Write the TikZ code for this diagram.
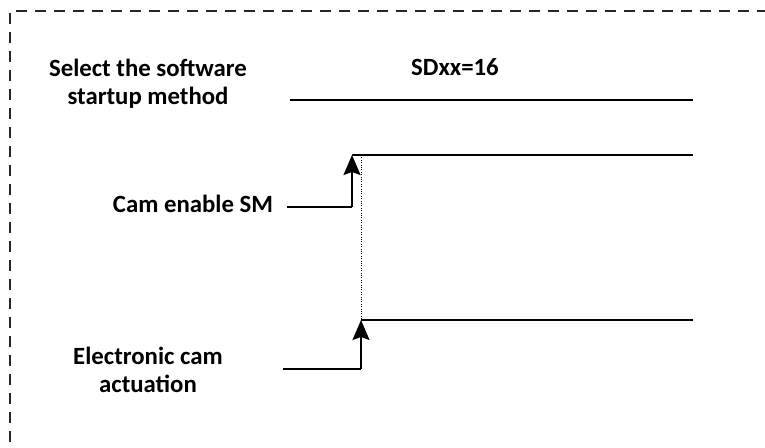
\documentclass[tikz,border=0pt]{standalone}
\usepackage{fontspec}
\setmainfont{Carlito}
\usetikzlibrary{arrows.meta}

\begin{document}
\begin{tikzpicture}[x=1pt,y=-1pt,>={Stealth[length=20pt,width=17pt,inset=3pt]},
  lbl/.style={font=\bfseries\fontsize{24.8}{28}\selectfont,align=center},
  sig/.style={line width=1.8pt}]
  \useasboundingbox (0,0) rectangle (765,447);
  % dashed frame, runs off the right and bottom edges
  \draw[black!85,line width=1.2pt,dash pattern=on 11pt off 8pt] (10,480) -- (10,11) -- (800,11);
  % software startup method
  \node[lbl] (sel) at (148,84) {Select the software\\startup method};
  \node[lbl,anchor=base] (sdxx) at (455,75) {SDxx=16};
  \coordinate (sel0) at (290,100);
  \coordinate (sel1) at (693,100);
  \draw[sig] (sel0) -- (sel1);
  % cam enable SM
  \node[lbl,anchor=base] (ena) at (193,212) {Cam enable SM};
  \coordinate (ena0) at (287,207);
  \coordinate (ena1) at (352,207);
  \coordinate (ena2) at (352,155);
  \coordinate (ena3) at (693,155);
  \draw[sig] (ena0) -- (ena1);
  \draw[sig,->] (ena1) -- (ena2);
  \draw[sig] (ena2) -- (ena3);
  % electronic cam actuation
  \node[lbl] (act) at (148,370) {Electronic cam\\actuation};
  \coordinate (act0) at (283,369);
  \coordinate (act1) at (361,369);
  \coordinate (act2) at (361,320);
  \coordinate (act3) at (693,320);
  \draw[sig] (act0) -- (act1);
  \draw[sig,->] (act1) -- (act2);
  \draw[sig] (act2) -- (act3);
  % dotted marker between the two edges
  \draw[dotted,thin] (act2 |- ena3) -- (act2);
\end{tikzpicture}
\end{document}
